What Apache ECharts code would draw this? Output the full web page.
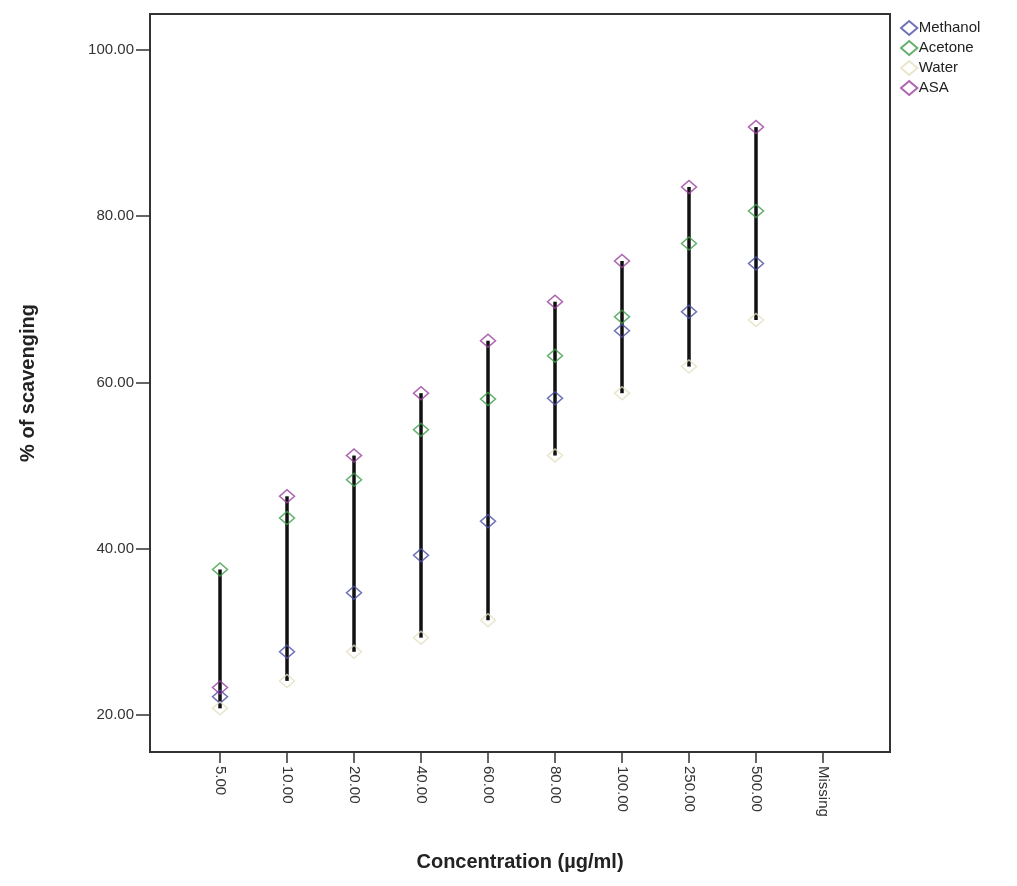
<!DOCTYPE html>
<html>
<head>
<meta charset="utf-8">
<script src="https://cdn.jsdelivr.net/npm/echarts@6/dist/echarts.min.js"></script>
<style>
  html, body { margin: 0; padding: 0; background: #fff; }
  #chart { width: 1017px; height: 886px; }
</style>
</head>
<body>
<div id="chart"></div>
<script>
// categories on the x axis (index positions 0..9)
const categories = ['5.00', '10.00', '20.00', '40.00', '60.00', '80.00', '100.00', '250.00', '500.00', 'Missing']
const yTicks = [20, 40, 60, 80, 100]

// % of scavenging per concentration
const methanol = [22.2, 27.6, 34.7, 39.2, 43.3, 58.1, 66.2, 68.5, 74.3]
const acetone = [37.5, 43.7, 48.3, 54.3, 58.0, 63.2, 67.9, 76.7, 80.6]
const water = [20.8, 24.1, 27.6, 29.3, 31.4, 51.2, 58.7, 61.9, 67.5]
const asa = [23.3, 46.3, 51.2, 58.7, 65.0, 69.7, 74.6, 83.5, 90.7]

const seriesDefs = [
  { name: 'Methanol', data: methanol, color: '#4b4fa6' },
  { name: 'Acetone', data: acetone, color: '#3c9e48' },
  { name: 'Water', data: water, color: '#e3e0c0' },
  { name: 'ASA', data: asa, color: '#9a3e9e' }
]

const diamond = 'path://M0,6 L7,0 L14,6 L7,12 Z'

// high-low range per category, from the four series
const ranges = methanol.map((_, i) => {
  const vals = seriesDefs.map(s => s.data[i])
  return [i, Math.min(...vals), Math.max(...vals)]
})

const chart = echarts.init(document.getElementById('chart'))

const option = {
  animation: false,
  textStyle: { fontFamily: 'Liberation Sans, Arial, sans-serif' },
  grid: {
    left: 150, right: 127, top: 14, bottom: 134,
    show: true, borderColor: '#333', borderWidth: 2, backgroundColor: 'transparent'
  },
  legend: {
    orient: 'vertical',
    left: 895, top: 15,
    itemWidth: 17, itemHeight: 14, itemGap: 4,
    textStyle: { fontSize: 15, color: '#222', padding: [0, 0, 0, -4] },
    data: seriesDefs.map(s => ({ name: s.name, icon: diamond }))
  },
  xAxis: {
    type: 'value',
    min: -1.045, max: 10,
    name: 'Concentration (\u00b5g/ml)',
    nameLocation: 'middle',
    nameGap: 100,
    nameTextStyle: { fontSize: 20, fontWeight: 'bold', color: '#222' },
    splitLine: { show: false },
    axisLine: { show: true, onZero: false, lineStyle: { color: '#333', width: 2 } },
    axisTick: { show: true, length: 11, customValues: categories.map((_, i) => i), lineStyle: { color: '#333', width: 1.5 } },
    axisLabel: {
      customValues: categories.map((_, i) => i),
      rotate: -90,
      margin: 14,
      fontSize: 15,
      color: '#333',
      formatter: v => categories[Math.round(v)]
    }
  },
  yAxis: {
    type: 'value',
    min: 15.55, max: 104.3,
    name: '% of scavenging',
    nameLocation: 'middle',
    nameGap: 112,
    nameTextStyle: { fontSize: 20, fontWeight: 'bold', color: '#222' },
    splitLine: { show: false },
    axisLine: { show: true, onZero: false, lineStyle: { color: '#333', width: 2 } },
    axisTick: { show: true, length: 14, customValues: yTicks, lineStyle: { color: '#333', width: 1.5 } },
    axisLabel: {
      customValues: yTicks,
      margin: 16,
      fontSize: 15,
      color: '#333',
      formatter: v => v.toFixed(2)
    }
  },
  series: [
    {
      type: 'custom',
      name: 'range',
      z: 1,
      silent: true,
      data: ranges,
      renderItem: (params, api) => {
        const lo = api.coord([api.value(0), api.value(1)])
        const hi = api.coord([api.value(0), api.value(2)])
        return {
          type: 'line',
          shape: { x1: lo[0], y1: lo[1], x2: hi[0], y2: hi[1] },
          style: { stroke: '#111', lineWidth: 3.5 }
        }
      }
    },
    ...seriesDefs.map(s => ({
      type: 'scatter',
      name: s.name,
      z: 2,
      symbol: diamond,
      symbolSize: [15, 13],
      itemStyle: { color: 'transparent', borderColor: s.color, borderWidth: 1.5 },
      data: s.data.map((v, i) => [i, v])
    }))
  ]
}

chart.setOption(option)
</script>
</body>
</html>
